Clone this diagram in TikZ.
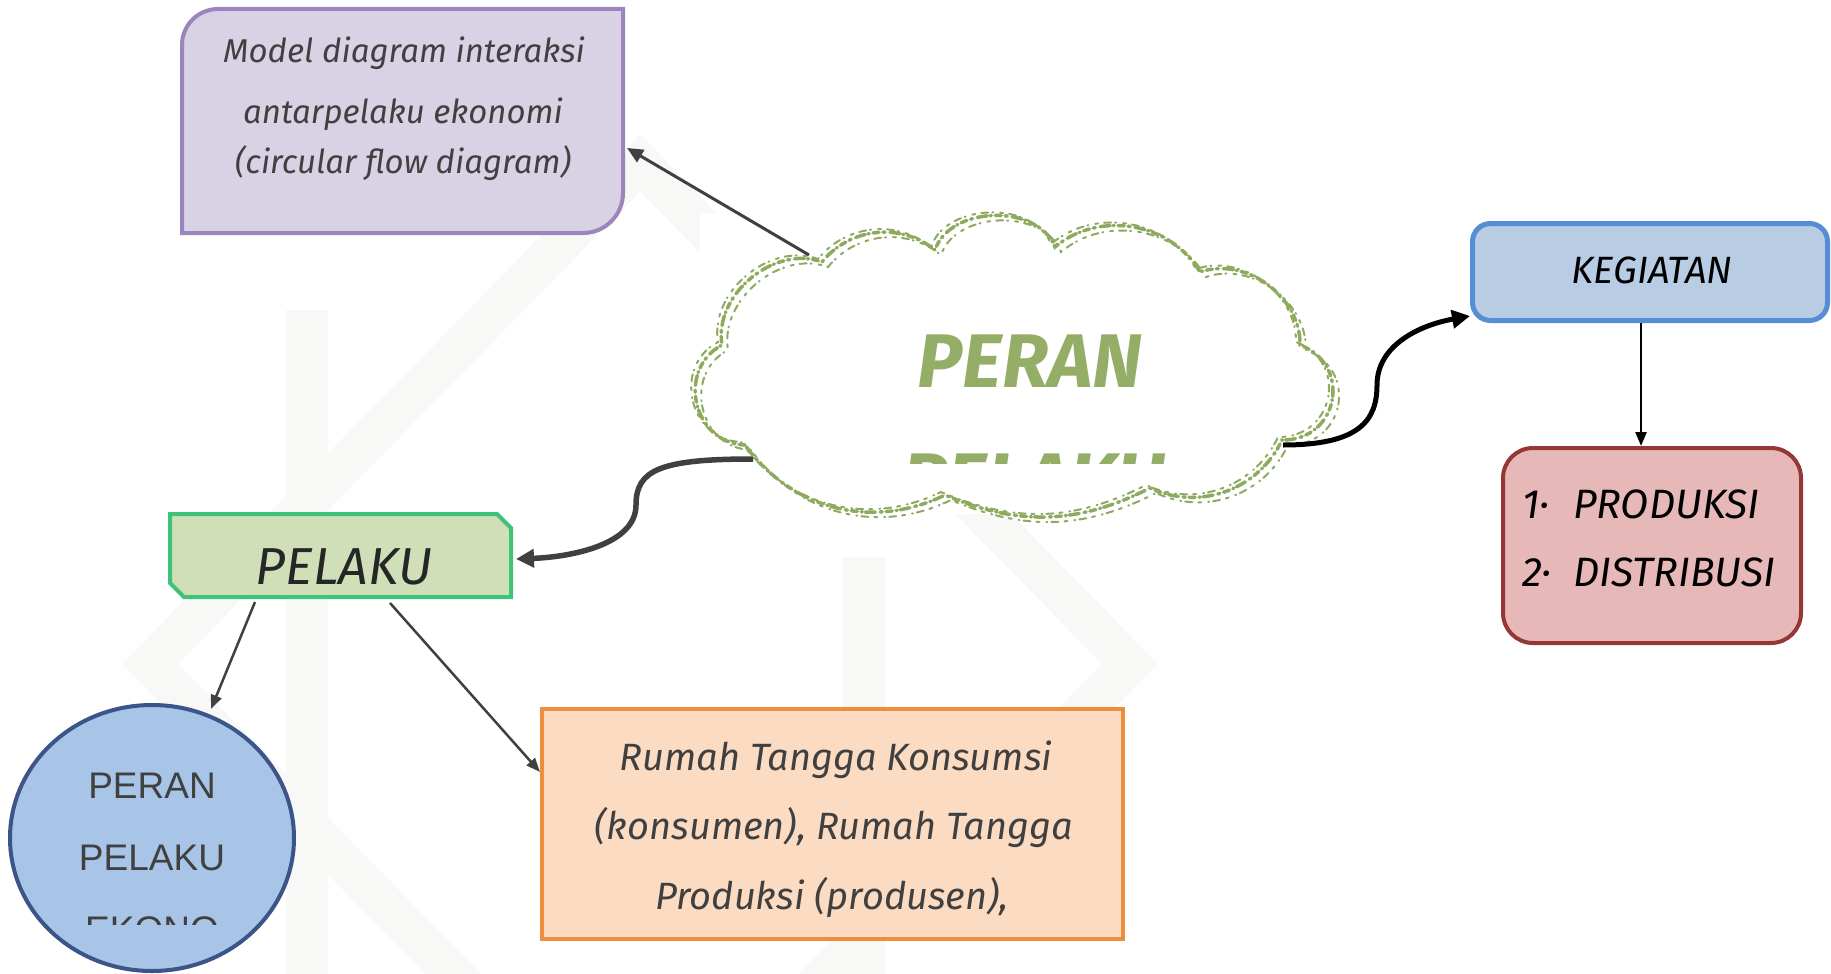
\documentclass[tikz,border=0pt]{standalone}
\usepackage{fontspec}
\setmainfont{Fira Sans}
\newfontfamily\arialf{Liberation Sans}
\usetikzlibrary{arrows.meta,calc,shapes.geometric}
\definecolor{pfill}{HTML}{D9D1E4}
\definecolor{pline}{HTML}{9C84BE}
\definecolor{kfill}{HTML}{B8CCE4}
\definecolor{kline}{HTML}{558ED5}
\definecolor{rfill}{HTML}{E6B9B8}
\definecolor{rline}{HTML}{953735}
\definecolor{gfill}{HTML}{D0DFB8}
\definecolor{gline}{HTML}{3DC47A}
\definecolor{cfill}{HTML}{A8C4E6}
\definecolor{cline}{HTML}{3B5589}
\definecolor{ofill}{HTML}{FBDCC3}
\definecolor{oline}{HTML}{EE8E3C}
\definecolor{cloudc}{HTML}{8DAA5E}
\definecolor{perang}{HTML}{94AD67}
\definecolor{dgray}{HTML}{404040}
\definecolor{wmark}{HTML}{F8F8F6}
\begin{document}
\begin{tikzpicture}[x=1pt,y=-1pt,
  handtxt/.style={font=\itshape\fontsize{#1}{#1}\selectfont, inner sep=0pt, anchor=base},
  conn/.style={draw=dgray, line width=#1},
  tipA/.style={-{Triangle[length=16pt,width=14pt]}},
  tipB/.style={-{Triangle[length=18pt,width=18pt]}},
  tipC/.style={-{Triangle[length=14pt,width=11pt]}},
  cloudline/.style={draw=cloudc, line width=3.5pt, line cap=round, dash pattern=on 6pt off 4pt on 2pt off 5pt on 10pt off 3pt on 1pt off 4pt},
  cloudline2/.style={draw=cloudc, line width=2pt, line cap=round, dash pattern=on 3pt off 6pt on 7pt off 4pt on 1pt off 7pt},
]
\useasboundingbox (0,0) rectangle (1831,974);

% ---------- faint watermark ----------
\begin{scope}
  \clip (0,0) rectangle (1831,974);
  \draw[wmark, line width=40pt, line join=miter] (150,664) -- (640,163) -- (1130,664) -- (640,1165) -- cycle;
  \fill[wmark] (286,310) rectangle (328,974);
  \fill[wmark] (842,557) rectangle (886,974);
\end{scope}
\fill[white] (700,213) rectangle (1335,514);

% ---------- purple box ----------
\draw[fill=pfill, draw=pline, line width=4pt]
  (182,233) [rounded corners=36pt] -- (182,9) [sharp corners] -- (623,9)
  [rounded corners=40pt] -- (623,233) [sharp corners] -- cycle;
\node[handtxt=33, text=dgray] (pm1) at (404,63) {Model diagram interaksi};
\node[handtxt=33, text=dgray] (pm2) at (403,123) {antarpelaku ekonomi};
\node[handtxt=33, text=dgray] (pm3) at (403,173) {(circular flow diagram)};
\coordinate (pm-e) at (627,148);

% ---------- cloud ----------
\def\cloudpath{(745,445) to[bend left=75, looseness=1.3] (722,345)
  to[bend left=60] (822,262) to[bend left=45] (935,250)
  to[bend left=70] (1055,247) to[bend left=50] (1200,272)
  to[bend left=55] (1300,345) to[bend left=80, looseness=1.5] (1282,440)
  to[bend left=45] (1150,488) to[bend left=25] (945,495)
  to[bend left=40] cycle}
\draw[cloudline] \cloudpath;
\draw[cloudline2, shift={(6,5)}] \cloudpath;
\draw[cloudline2, shift={(-4,-3)}, dash phase=5pt] \cloudpath;
\node[font=\bfseries\itshape\fontsize{76}{76}\selectfont, text=perang, inner sep=0pt, anchor=base] (peran) at (1030,387) {PERAN};
\begin{scope}
  \clip (880,440) rectangle (1190,463);
  \node[font=\bfseries\itshape\fontsize{76}{76}\selectfont, text=perang, inner sep=0pt, anchor=base] (pelakuc) at (1034,506) {PELAKU};
\end{scope}
\coordinate (cl-nw) at (809,255);
\coordinate (cl-e) at (1283,445);
\coordinate (cl-w) at (753,459);

% ---------- KEGIATAN ----------
\node[draw=kline, fill=kfill, line width=5pt, rounded corners=18pt,
  minimum width=355pt, minimum height=97pt, inner sep=0pt] (keg) at (1650,272) {};
\node[handtxt=38, text=black] (kegt) at (1652,283) {KEGIATAN};
\coordinate (keg-w) at (1470,316);
\coordinate (keg-s) at (1641,323);

% ---------- PRODUKSI / DISTRIBUSI ----------
\node[draw=rline, fill=rfill, line width=4pt, rounded corners=30pt,
  minimum width=298pt, minimum height=195pt, inner sep=0pt] (prod) at (1652,545.5) {};
\node[handtxt=41, text=black, anchor=base west] (p1) at (1522,518) {\makebox[51pt][l]{1\textperiodcentered}PRODUKSI};
\node[handtxt=41, text=black, anchor=base west] (p2) at (1522,586) {\makebox[51pt][l]{2\textperiodcentered}DISTRIBUSI};
\coordinate (prod-n) at (1641,446);

% ---------- PELAKU ----------
\draw[fill=gfill, draw=gline, line width=4pt]
  (170,514) -- (497,514) -- (511,528) -- (511,597) -- (184,597) -- (170,583) -- cycle;
\node[handtxt=52, text=black!85] (pel) at (344,584) {PELAKU};
\coordinate (pel-e) at (516,559);
\coordinate (pel-s1) at (255,602);
\coordinate (pel-s2) at (390,603);

% ---------- circle ----------
\node[draw=cline, fill=cfill, line width=4pt, ellipse, minimum width=284pt,
  minimum height=266pt, inner sep=0pt] (circ) at (152,838) {};
\node[font=\arialf\fontsize{37}{37}\selectfont, text=dgray, inner sep=0pt, anchor=base] (c1) at (152,798) {PERAN};
\node[font=\arialf\fontsize{37}{37}\selectfont, text=dgray, inner sep=0pt, anchor=base] (c2) at (152,870) {PELAKU};
\begin{scope}
  \clip (40,900) rectangle (260,924);
  \node[font=\arialf\fontsize{37}{37}\selectfont, text=dgray, inner sep=0pt, anchor=base] (c3) at (152,942) {EKONO};
\end{scope}
\coordinate (circ-n) at (211,709);

% ---------- orange box ----------
\node[draw=oline, fill=ofill, line width=4pt,
  minimum width=581pt, minimum height=230pt, inner sep=0pt] (org) at (832.5,824) {};
\node[handtxt=38, text=dgray] (o1) at (836,770) {Rumah Tangga Konsumsi};
\node[handtxt=38, text=dgray] (o2) at (834,839) {(konsumen), Rumah Tangga};
\node[handtxt=38, text=dgray] (o3) at (832,909) {Produksi (produsen),};
\coordinate (org-w) at (540,772);

% ---------- connectors ----------
\draw[conn=3pt, tipA] (cl-nw) -- (pm-e);
\draw[draw=black, line width=5pt, tipB] (cl-e) .. controls (1360,445) and (1377,420) .. (1377,385)
  .. controls (1377,345) and (1420,325) .. (keg-w);
\draw[conn=5.5pt, tipB] (cl-w) .. controls (660,459) and (636,470) .. (636,505)
  .. controls (636,545) and (570,557) .. (pel-e);
\draw[draw=black, line width=2.5pt, tipC] (keg-s) -- (prod-n);
\draw[conn=2.5pt, tipC] (pel-s1) -- (circ-n);
\draw[conn=2.5pt, tipC] (pel-s2) -- (org-w);
\end{tikzpicture}
\end{document}
